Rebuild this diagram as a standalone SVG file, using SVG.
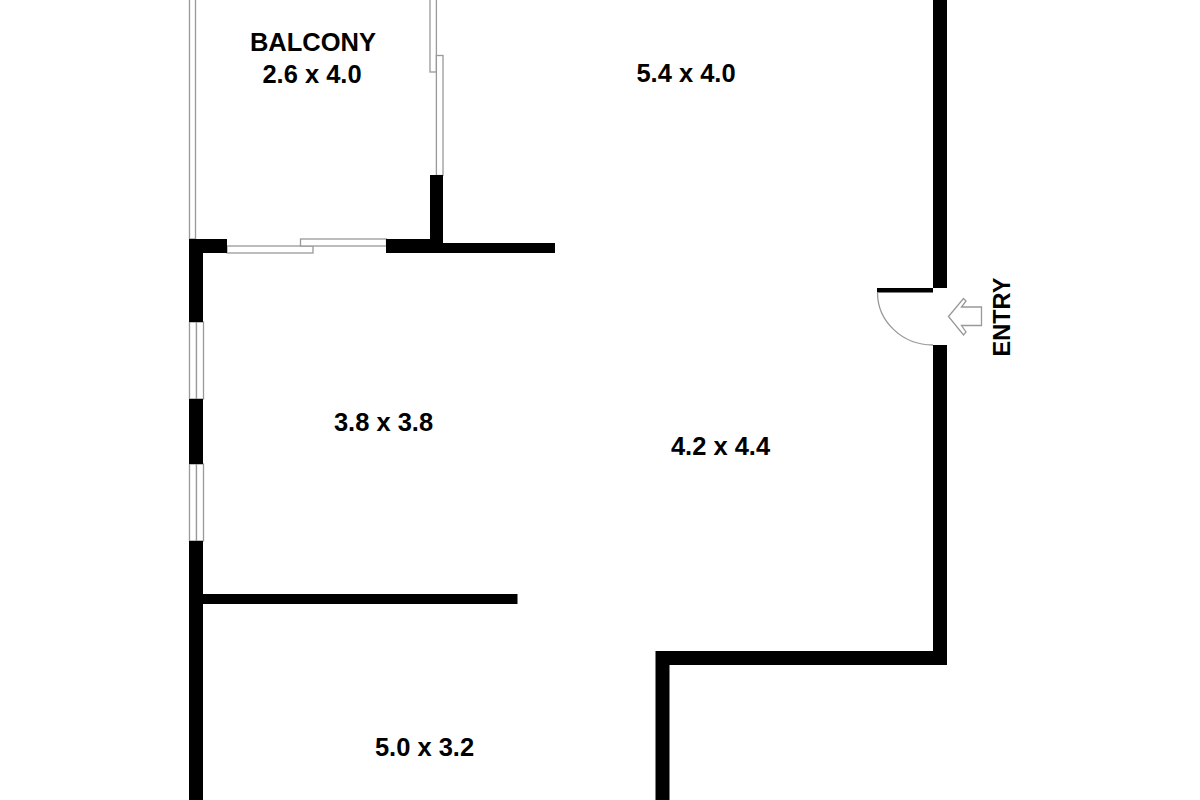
<svg xmlns="http://www.w3.org/2000/svg" width="1200" height="800" viewBox="0 0 1200 800">
<style>
.wall{fill:#000}
.thin{fill:#fff;stroke:#999;stroke-width:1.3}
.lbl{font-family:"Liberation Sans",Arial,sans-serif;font-weight:700;font-size:25.5px;fill:#000;text-anchor:middle}
</style>
<rect width="1200" height="800" fill="#fff"/>
<rect class="thin" x="189.500" y="-5" width="6" height="244"/>
<rect class="thin" x="430" y="-5" width="6.400" height="77"/>
<rect class="thin" x="436.400" y="55.500" width="6.600" height="120"/>
<rect class="thin" x="227" y="246" width="86" height="7"/>
<rect class="thin" x="300.500" y="239" width="86" height="7"/>
<rect class="thin" x="189.500" y="322" width="7" height="77"/>
<rect class="thin" x="196.500" y="322" width="7" height="77"/>
<rect class="thin" x="189.500" y="464" width="7" height="77"/>
<rect class="thin" x="196.500" y="464" width="7" height="77"/>
<path class="wall" d="M189 239H227V253H203V322H189Z"/>
<rect class="wall" x="189" y="399" width="14" height="65"/>
<rect class="wall" x="189" y="541" width="14" height="264"/>
<rect class="wall" x="203" y="594" width="314.500" height="10"/>
<path class="wall" d="M386 239H430V175H443V243H555V253H386Z"/>
<rect class="wall" x="933" y="-5" width="14" height="293"/>
<path class="wall" d="M933 345H947V665H669.500V805H655.500V651H933Z"/>
<rect class="wall" x="877" y="288" width="56" height="4.500"/>
<path d="M877.500 292.500A55.500 52.500 0 0 0 933 345" fill="none" stroke="#999" stroke-width="1.300"/>
<path d="M948.500 316.500L963.500 298.500L966 301L961.500 307H981.500V325.500H961.500L966 332L963.500 335Z" fill="#fff" stroke="#999" stroke-width="1.300"/>
<text class="lbl" x="313" y="51">BALCONY</text>
<text class="lbl" x="312" y="83">2.6 x 4.0</text>
<text class="lbl" x="686" y="82">5.4 x 4.0</text>
<text class="lbl" x="383.500" y="431">3.8 x 3.8</text>
<text class="lbl" x="720.500" y="455">4.2 x 4.4</text>
<text class="lbl" x="424.500" y="756">5.0 x 3.2</text>
<text class="lbl" transform="translate(1010 317) rotate(-90)" style="font-size:23.500px">ENTRY</text>
</svg>
